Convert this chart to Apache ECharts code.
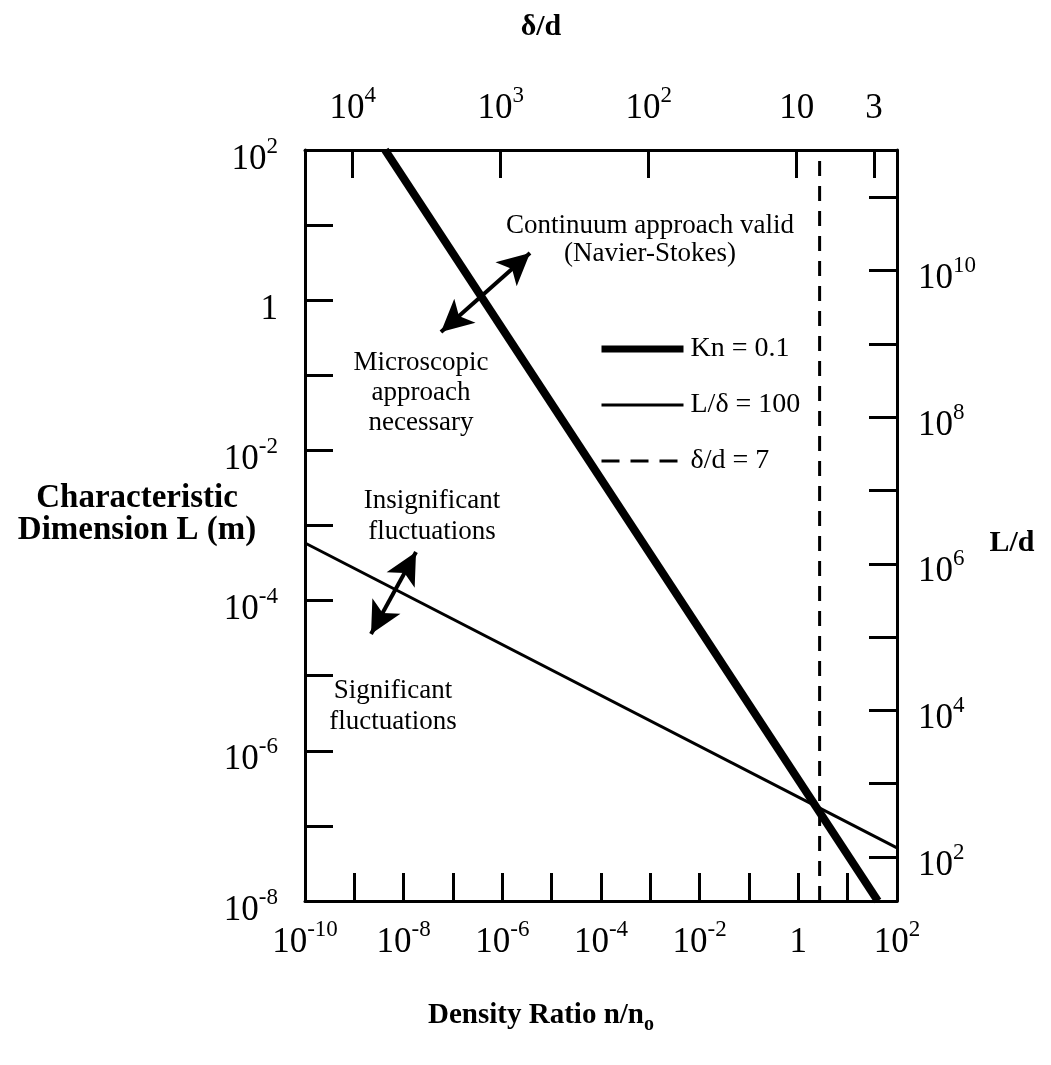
<!DOCTYPE html>
<html>
<head>
<meta charset="utf-8">
<script src="https://cdn.jsdelivr.net/npm/echarts@6/dist/echarts.min.js"></script>
<style>html,body{margin:0;padding:0;background:#fff}#c{width:1051px;height:1065px}</style>
</head>
<body>
<div id="c"></div>
<script>
// ---- axis ranges (real values) ----
const densityRange = [1e-10, 1e2];      // n/n0, bottom axis
const lengthRange = [1e-8, 1e2];        // L (m), left axis
const deltaRange = [2.1, 2.1e4];        // delta/d at right and left edges, top axis
const ldRange = [25.1, 4.42e11];        // L/d, right axis (as drawn)

// ---- ticks and tick labels ----
const densityTicks = [1e-9, 1e-8, 1e-7, 1e-6, 1e-5, 1e-4, 1e-3, 1e-2, 1e-1, 1, 10];
const densityLabels = [1e-10, 1e-8, 1e-6, 1e-4, 1e-2, 1, 1e2];
const lengthTicks = [1e-7, 1e-6, 1e-5, 1e-4, 1e-3, 1e-2, 1e-1, 1, 10];
const lengthLabels = [1e-8, 1e-6, 1e-4, 1e-2, 1, 1e2];
const deltaTicks = [1e4, 1e3, 1e2, 10, 3];
const deltaLabels = [1e4, 1e3, 1e2, 10, 3];
const ldTicks = [1e2, 1e3, 1e4, 1e5, 1e6, 1e7, 1e8, 1e9, 1e10, 1e11];
const ldLabels = [1e2, 1e4, 1e6, 1e8, 1e10];

// ---- series ----
const seriesNames = ['Kn = 0.1', 'L/δ = 100', 'δ/d = 7'];
const knDensity = [4.2e-9, 41];
const knLength = [1e2, 1e-8];
const ldeltaDensity = [1e-10, 1e2];
const ldeltaLength = [5.85e-4, 5.1e-8];
const deltaLineValue = 7;

// ---- double arrows (density, length) tip pairs ----
const arrowFrom = [[5.7e-8, 0.378], [2.18e-9, 3.59e-5]];
const arrowTo = [[3.64e-6, 4.25], [1.78e-8, 4.44e-4]];

const FONT = 'Liberation Serif';
const lg = Math.log10;

function powLabel(v) {
  const e = Math.round(v);
  if (Math.abs(v - e) > 1e-6) return '{b|' + Math.round(Math.pow(10, v)) + '}';
  if (e === 0) return '{b|1}';
  if (e === 1) return '{b|10}';
  return '{b|10}{s|' + (e < 0 ? '-' + (-e) : e) + '}';
}
const rich = {
  b: {fontFamily: FONT, fontSize: 35, lineHeight: 42, verticalAlign: 'bottom', color: '#000'},
  s: {fontFamily: FONT, fontSize: 23, lineHeight: 24, verticalAlign: 'top', color: '#000'}
};
const lineSty = {color: '#000', width: 3};

function makeAxis(pos, range, ticks, labels, margin, extra, labelExtra) {
  return Object.assign({
    type: 'value',
    position: pos,
    min: lg(range[0]),
    max: lg(range[1]),
    axisLine: {show: true, onZero: false, lineStyle: lineSty},
    axisTick: {show: true, inside: true, length: 28, customValues: ticks.map(lg), lineStyle: lineSty},
    axisLabel: Object.assign({show: true, customValues: labels.map(lg), margin: margin, formatter: powLabel, rich: rich, color: '#000'}, labelExtra || {}),
    splitLine: {show: false},
    axisPointer: {show: false}
  }, extra || {});
}

const arrowHead = [24, 32];
const chart = echarts.init(document.getElementById('c'));
chart.setOption({
  animation: false,
  backgroundColor: '#fff',
  grid: {left: 305, right: 154, top: 150, bottom: 164, containLabel: false, outerBoundsMode: 'none'},
  xAxis: [
    makeAxis('bottom', densityRange, densityTicks, densityLabels, 17),
    makeAxis('top', deltaRange, deltaTicks, deltaLabels, 24, {inverse: true})
  ],
  yAxis: [
    makeAxis('left', lengthRange, lengthTicks, lengthLabels, 27, null, {padding: [12, 0, 0, 0]}),
    makeAxis('right', ldRange, ldTicks, ldLabels, 21, null, {padding: [10, 0, 0, 0]})
  ],
  legend: {
    selectedMode: false,
    orient: 'vertical',
    left: 598,
    top: 335,
    padding: 0,
    itemWidth: 82,
    itemHeight: 28,
    itemGap: 28,
    textStyle: {fontFamily: FONT, fontSize: 28, color: '#000', padding: [0, 0, 0, 2]},
    data: [
      {name: seriesNames[0], itemStyle: {opacity: 0}, lineStyle: {width: 7, type: 'solid', color: '#000'}},
      {name: seriesNames[1], itemStyle: {opacity: 0}, lineStyle: {width: 3, type: 'solid', color: '#000'}},
      {name: seriesNames[2], itemStyle: {opacity: 0}, lineStyle: {width: 3, type: [18, 11], color: '#000'}}
    ]
  },
  series: [
    {
      name: seriesNames[1], type: 'line', xAxisIndex: 0, yAxisIndex: 0,
      data: ldeltaDensity.map((d, i) => [lg(d), lg(ldeltaLength[i])]),
      symbol: 'none', silent: true, z: 3,
      lineStyle: {color: '#000', width: 3}, itemStyle: {color: '#000'}
    },
    {
      name: seriesNames[0], type: 'line', xAxisIndex: 0, yAxisIndex: 0,
      data: knDensity.map((d, i) => [lg(d), lg(knLength[i])]),
      symbol: 'none', silent: true, z: 4,
      lineStyle: {color: '#000', width: 8}, itemStyle: {color: '#000'},
      markLine: {
        silent: true,
        symbol: ['arrow', 'arrow'],
        symbolSize: 24,
        itemStyle: {color: '#000'},
        label: {show: false},
        lineStyle: {color: '#000', width: 4, type: 'solid'},
        emphasis: {disabled: true},
        data: arrowFrom.map((a, i) => [
          {coord: [lg(a[0]), lg(a[1])], symbol: 'arrow', symbolSize: arrowHead, itemStyle: {color: '#000'}},
          {coord: [lg(arrowTo[i][0]), lg(arrowTo[i][1])], symbol: 'arrow', symbolSize: arrowHead, itemStyle: {color: '#000'}}
        ])
      }
    },
    {
      name: seriesNames[2], type: 'line', xAxisIndex: 1, yAxisIndex: 0,
      data: lengthRange.map(L => [lg(deltaLineValue), lg(L)]),
      symbol: 'none', silent: true, z: 3,
      lineStyle: {color: '#000', width: 3, type: [15, 10]}, itemStyle: {color: '#000'}
    }
  ],
  graphic: {
    elements: [
      {type: 'text', x: 541, y: 27, style: {text: 'δ/d', font: 'bold 30px "Liberation Serif"', fill: '#000', align: 'center', verticalAlign: 'middle'}},
      {type: 'text', x: 1012, y: 543, style: {text: 'L/d', font: 'bold 30px "Liberation Serif"', fill: '#000', align: 'center', verticalAlign: 'middle'}},
      {type: 'text', x: 137, y: 514, style: {text: 'Characteristic\nDimension L (m)', font: 'bold 33px "Liberation Serif"', lineHeight: 32, fill: '#000', align: 'center', verticalAlign: 'middle'}},
      {type: 'text', x: 541, y: 1018, style: {
        text: '{b|Density Ratio n/n}{sub|o}', align: 'center', verticalAlign: 'middle', fill: '#000',
        rich: {
          b: {fontFamily: FONT, fontWeight: 'bold', fontSize: 29, lineHeight: 34, verticalAlign: 'top', fill: '#000'},
          sub: {fontFamily: FONT, fontWeight: 'bold', fontSize: 20, lineHeight: 18, verticalAlign: 'bottom', fill: '#000'}
        }
      }},
      {type: 'text', x: 650, y: 240, style: {text: 'Continuum approach valid\n(Navier-Stokes)', font: '27px "Liberation Serif"', lineHeight: 28, fill: '#000', align: 'center', verticalAlign: 'middle'}},
      {type: 'text', x: 421, y: 393, style: {text: 'Microscopic\napproach\nnecessary', font: '27px "Liberation Serif"', lineHeight: 30, fill: '#000', align: 'center', verticalAlign: 'middle'}},
      {type: 'text', x: 432, y: 516, style: {text: 'Insignificant\nfluctuations', font: '27px "Liberation Serif"', lineHeight: 31, fill: '#000', align: 'center', verticalAlign: 'middle'}},
      {type: 'text', x: 393, y: 706, style: {text: 'Significant\nfluctuations', font: '27px "Liberation Serif"', lineHeight: 31, fill: '#000', align: 'center', verticalAlign: 'middle'}}
    ]
  }
});
</script>
</body>
</html>
